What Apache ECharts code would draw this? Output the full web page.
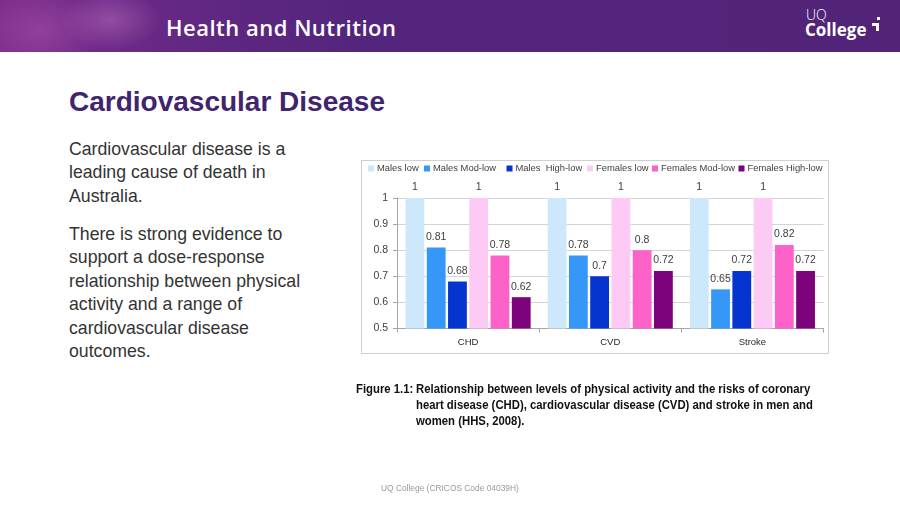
<!DOCTYPE html>
<html>
<head>
<meta charset="utf-8">
<script src="https://cdn.jsdelivr.net/npm/echarts@6/dist/echarts.min.js"></script>
<style>
  html, body { margin:0; padding:0; width:900px; height:506px; overflow:hidden; background:#ffffff; }
  #header { position:absolute; left:0; top:0; width:900px; height:52px;
    background:
      radial-gradient(ellipse 60px 40px at 40px 30px, rgba(170,80,170,0.55), rgba(170,80,170,0) 100%),
      radial-gradient(ellipse 50px 30px at 110px 20px, rgba(190,120,190,0.45), rgba(190,120,190,0) 100%),
      linear-gradient(90deg, #7d2d8c 0%, #6e2a88 12%, #5f2782 24%, #54257c 40%, #51247a 100%); }
  #htitle { position:absolute; left:166px; top:12px; color:#ffffff; font-family:"Open Sans", sans-serif; font-weight:600; font-size:22px; letter-spacing:0.5px; white-space:nowrap; }
  #uq { position:absolute; left:806px; top:8px; color:#fff; font-family:"Open Sans", sans-serif; font-weight:300; font-size:14px; line-height:14px; }
  #college { position:absolute; left:805px; top:21px; color:#fff; font-family:"Open Sans", sans-serif; font-weight:700; font-size:17px; line-height:18px; letter-spacing:0px; }
  .mark { position:absolute; background:#fff; }
  #title { position:absolute; left:69px; top:86px; color:#3f2470; font-family:"Liberation Sans", Arial, sans-serif; font-weight:bold; font-size:28px; line-height:32px; white-space:nowrap; }
  .body { position:absolute; left:69px; color:#333333; font-family:"Liberation Sans", Arial, sans-serif; font-size:17.7px; line-height:23.4px; white-space:nowrap; }
  #box { position:absolute; left:361px; top:160px; width:466px; height:192px; border:1px solid #cfcfcf; }
  #chart { position:absolute; left:0; top:0; width:900px; height:506px; }
  .cap { position:absolute; font-family:"Liberation Sans", Arial, sans-serif; font-weight:bold; font-size:12.6px; line-height:16px; color:#111; white-space:nowrap; transform:scaleX(0.9); transform-origin:0 0; }
  #footer { position:absolute; left:381px; top:483px; color:#9a9a9a; font-family:"Liberation Sans", Arial, sans-serif; font-size:8.4px; white-space:nowrap; }
</style>
</head>
<body>
<div id="header"></div>
<div id="htitle">Health and Nutrition</div>
<div id="uq">UQ</div>
<div id="college">College</div>
<div class="mark" style="left:872px;top:23px;width:7px;height:3px;"></div>
<div class="mark" style="left:876px;top:23px;width:3px;height:8px;"></div>
<div class="mark" style="left:877px;top:17px;width:3px;height:3px;"></div>

<div id="title">Cardiovascular Disease</div>
<div class="body" style="top:138px;">Cardiovascular disease is a<br>leading cause of death in<br>Australia.</div>
<div class="body" style="top:223px;">There is strong evidence to<br>support a dose-response<br>relationship between physical<br>activity and a range of<br>cardiovascular disease<br>outcomes.</div>

<div id="box"></div>
<div id="chart"></div>

<div class="cap" style="left:356px;top:381px;">Figure 1.1:</div>
<div class="cap" style="left:416px;top:381px;">Relationship between levels of physical activity and the risks of coronary<br>heart disease (CHD), cardiovascular disease (CVD) and stroke in men and<br>women (HHS, 2008).</div>

<div id="footer">UQ College (CRICOS Code 04039H)</div>

<script>
const categories = ['CHD', 'CVD', 'Stroke'];
const seriesNames = ['Males low', 'Males Mod-low', 'Males  High-low', 'Females low', 'Females Mod-low', 'Females High-low'];
const malesLow = [1, 1, 1];
const malesModLow = [0.81, 0.78, 0.65];
const malesHighLow = [0.68, 0.70, 0.72];
const femalesLow = [1, 1, 1];
const femalesModLow = [0.78, 0.80, 0.82];
const femalesHighLow = [0.62, 0.72, 0.72];
const yTicks = [0.5, 0.6, 0.7, 0.8, 0.9, 1];

const seriesData = [malesLow, malesModLow, malesHighLow, femalesLow, femalesModLow, femalesHighLow];
const colors = ['#cce8fa', '#3598f8', '#0634cf', '#fdcaf6', '#fd62c9', '#7c037c'];
const legendLefts = [368, 424, 506.5, 587, 652, 738.5];
const FONT = '"Liberation Sans", Arial, sans-serif';

const chart = echarts.init(document.getElementById('chart'), null, { renderer: 'canvas' });

const legends = seriesNames.map((n, i) => ({
  data: [n],
  left: legendLefts[i],
  top: 164,
  padding: 0,
  itemWidth: 6,
  itemHeight: 6,
  itemGap: 0,
  icon: 'rect',
  selectedMode: false,
  textStyle: { fontFamily: FONT, fontSize: 9.4, color: '#404040', padding: [0, 0, 0, -2] }
}));

const series = seriesNames.map((n, i) => ({
  name: n,
  type: 'bar',
  data: seriesData[i],
  barGap: '13%',
  barCategoryGap: '12%',
  itemStyle: { color: colors[i] },
  label: {
    show: true,
    position: 'top',
    distance: 5,
    fontFamily: FONT,
    fontSize: 10.5,
    color: '#404040'
  },
  emphasis: { disabled: true },
  animation: false
}));

chart.setOption({
  animation: false,
  color: colors,
  legend: legends,
  grid: { left: 397, top: 198, right: 900 - 823.5, bottom: 506 - 328.5, containLabel: false },
  xAxis: {
    type: 'category',
    data: categories,
    axisLine: { lineStyle: { color: '#a6a6a6', width: 1 } },
    axisTick: { show: true, length: 4, lineStyle: { color: '#a6a6a6' } },
    axisLabel: { margin: 9, fontFamily: FONT, fontSize: 9.5, color: '#262626' }
  },
  yAxis: {
    type: 'value',
    min: yTicks[0],
    max: yTicks[yTicks.length - 1],
    interval: 0.1,
    axisLine: { show: true, lineStyle: { color: '#a6a6a6', width: 1 } },
    axisTick: { show: true, length: 4, lineStyle: { color: '#a6a6a6' } },
    axisLabel: { margin: 9, fontFamily: FONT, fontSize: 10.5, color: '#404040' },
    splitLine: { show: true, lineStyle: { color: '#d4d4d4', width: 1 } }
  },
  series: series
});
</script>
</body>
</html>
